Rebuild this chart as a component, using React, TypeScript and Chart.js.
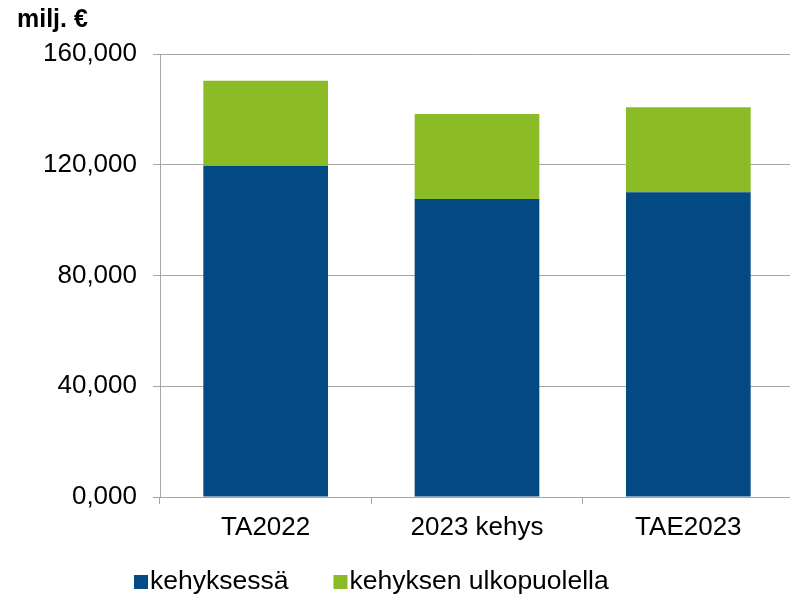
import React, { useEffect, useRef } from "react";
import { Chart, registerables } from "chart.js";

Chart.register(...registerables);

const categories = ["TA2022", "2023 kehys", "TAE2023"];
const inFrame = [119.6, 107.6, 110.1];
const outsideFrame = [30.7, 30.7, 30.7];
const seriesNames = ["kehyksessä", "kehyksen ulkopuolella"];
const seriesColors = ["#034A84", "#8BBC25"];
const yMin = 0;
const yMax = 160;
const yStep = 40;
const unitTitle = "milj. €";

const FONT = "'Liberation Sans', Arial, sans-serif";
const FS = 26;
const LFS = 26.5;
const GRID = "#a6a6a6";

const customLegend = {
  id: "customLegend",
  afterDraw(chart: any) {
    const ctx = chart.ctx;
    ctx.save();
    ctx.font = `${LFS}px ${FONT}`;
    ctx.textBaseline = "middle";
    ctx.textAlign = "left";
    let x = 134;
    const y = 582;
    chart.data.datasets.forEach((ds: any) => {
      ctx.fillStyle = ds.backgroundColor;
      ctx.fillRect(x, y - 7, 14, 14);
      ctx.fillStyle = "#000";
      ctx.fillText(ds.label, x + 16, y);
      x += 16 + ctx.measureText(ds.label).width + 45;
    });
    ctx.restore();
  },
};

export default function App() {
  const ref = useRef<HTMLCanvasElement>(null);
  useEffect(() => {
    if (!ref.current) return;
    Chart.defaults.font.family = FONT;
    Chart.defaults.color = "#000";
    const chart = new Chart(ref.current, {
      type: "bar",
      data: {
        labels: categories,
        datasets: [
          { label: seriesNames[0], data: inFrame, backgroundColor: seriesColors[0], borderWidth: 0 },
          { label: seriesNames[1], data: outsideFrame, backgroundColor: seriesColors[1], borderWidth: 0 },
        ],
      },
      options: {
        responsive: false,
        animation: false,
        devicePixelRatio: 1,
        layout: { padding: { left: 17, right: 2, top: 0, bottom: 40 } },
        datasets: { bar: { categoryPercentage: 1, barPercentage: 0.59 } },
        plugins: {
          legend: { display: false },
          tooltip: { enabled: false },
          title: {
            display: true,
            text: unitTitle,
            align: "start",
            font: { size: 25, weight: "bold", family: FONT },
            color: "#000",
            padding: { top: 5, bottom: 19 },
          },
        },
        scales: {
          x: {
            stacked: true,
            grid: { drawOnChartArea: false, drawTicks: true, tickLength: 7, color: GRID, offset: true },
            border: { color: GRID },
            ticks: { font: { size: FS }, color: "#000", padding: 8, maxRotation: 0 },
            afterFit: (s: any) => { s.height = 60; },
          },
          y: {
            stacked: true,
            min: yMin,
            max: yMax,
            grid: { color: GRID, tickLength: 7 },
            border: { color: GRID },
            ticks: {
              stepSize: yStep,
              font: { size: FS },
              color: "#000",
              padding: 16,
              callback: (v: any) => Number(v).toFixed(3).replace(".", ","),
            },
            afterFit: (s: any) => { s.width = 143; },
          },
        },
      },
      plugins: [customLegend],
    });
    return () => chart.destroy();
  }, []);
  return (
    <canvas
      ref={ref}
      width={796}
      height={597}
      style={{ position: "fixed", left: 0, top: 0, width: 796, height: 597 }}
    />
  );
}
